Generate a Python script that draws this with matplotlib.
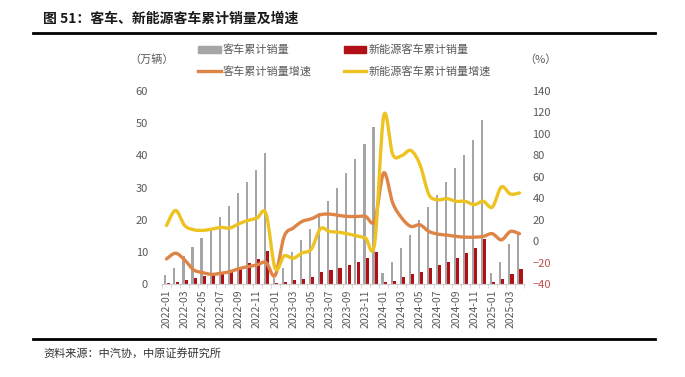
import matplotlib
matplotlib.use("Agg")
import matplotlib.pyplot as plt
import numpy as np
from matplotlib.path import Path
from matplotlib.patches import PathPatch, Patch
from matplotlib.lines import Line2D

plt.rcParams['font.family'] = ['Noto Sans CJK SC', 'DejaVu Sans']

# ---------------- data ----------------
months = [f"{y}-{m:02d}" for y in (2022, 2023, 2024) for m in range(1, 13)] + \
         ["2025-01", "2025-02", "2025-03", "2025-04"]

bus_cum = [2.8, 5.1, 8.8, 11.6, 14.4, 17.1, 20.8, 24.2, 28.2, 31.6, 35.3, 40.6,
           1.8, 5.1, 9.8, 13.7, 17.2, 22.0, 25.9, 29.8, 34.4, 38.8, 43.4, 48.9,
           3.3, 6.7, 11.1, 15.2, 19.9, 24.0, 27.8, 31.6, 36.0, 40.1, 44.8, 51.0,
           3.5, 6.8, 12.3, 15.4]

nev_bus_cum = [0.2, 0.7, 1.2, 1.8, 2.5, 2.8, 3.3, 4.0, 4.9, 6.6, 7.8, 10.3,
               0.2, 0.5, 1.2, 1.6, 2.3, 3.6, 4.2, 5.0, 5.9, 6.8, 8.1, 9.9,
               0.5, 0.9, 2.1, 3.0, 3.8, 5.0, 5.9, 6.9, 8.1, 9.6, 11.2, 13.9,
               0.7, 1.6, 3.1, 4.6]

bus_growth = [-16.6, -11.3, -17.5, -26.8, -29.4, -31.0, -30.0, -28.5, -25.7, -23.8, -22.2, -20.0,
              -32.0, 4.4, 12.2, 18.4, 20.8, 24.6, 25.2, 24.0, 23.0, 23.0, 23.0, 19.0,
              63.6, 35.5, 21.5, 13.7, 15.2, 9.0, 6.5, 5.6, 4.4, 3.7, 3.7, 4.4,
              6.9, 1.2, 9.0, 6.9]

nev_bus_growth = [14.6, 28.6, 14.6, 10.6, 10.0, 11.2, 12.8, 12.2, 16.2, 19.3, 21.5, 25.5,
                  -25.3, -13.8, -16.0, -11.0, -7.5, 11.5, 9.0, 8.3, 6.8, 4.9, 2.7, -1.9,
                  116.6, 80.7, 79.8, 84.5, 71.4, 43.3, 38.6, 39.6, 37.1, 37.1, 34.0, 37.1,
                  31.7, 50.5, 43.9, 44.9]

left_ticks = [0, 10, 20, 30, 40, 50, 60]
right_ticks = [-40, -20, 0, 20, 40, 60, 80, 100, 120, 140]

labels = ["客车累计销量", "新能源客车累计销量", "客车累计销量增速", "新能源客车累计销量增速"]

# ---------------- style ----------------
C_GRAY = "#A5A5A5"
C_RED = "#B01016"
C_ORANGE = "#DF8447"
C_YELLOW = "#EDC322"
C_TXT = "#595959"


def smooth_path(xs, ys):
    """Catmull-Rom style smoothing (like Excel smoothed lines) as Bezier path."""
    xs = np.asarray(xs, float)
    ys = np.asarray(ys, float)
    n = len(xs)
    verts = [(xs[0], ys[0])]
    codes = [Path.MOVETO]
    for i in range(n - 1):
        i0 = max(i - 1, 0)
        i3 = min(i + 2, n - 1)
        c1 = (xs[i] + (xs[i + 1] - xs[i0]) / 6.0, ys[i] + (ys[i + 1] - ys[i0]) / 6.0)
        c2 = (xs[i + 1] - (xs[i3] - xs[i]) / 6.0, ys[i + 1] - (ys[i3] - ys[i]) / 6.0)
        verts += [c1, c2, (xs[i + 1], ys[i + 1])]
        codes += [Path.CURVE4] * 3
    return Path(verts, codes)


fig = plt.figure(figsize=(6.85, 3.77), dpi=100)
ax = fig.add_axes([162 / 685, 1 - 284 / 377, (524 - 162) / 685, (284 - 91) / 377])
ax2 = ax.twinx()

x = np.arange(len(months))
ax.bar(x - 0.13, bus_cum, width=0.24, color=C_GRAY, zorder=2)
ax.bar(x + 0.17, nev_bus_cum, width=0.34, color=C_RED, zorder=2)

ax.set_xlim(-0.5, len(months) - 0.5)
ax.set_ylim(0, 60)
ax.set_yticks(left_ticks)

ax2.add_patch(PathPatch(smooth_path(x, bus_growth), facecolor="none",
                        edgecolor=C_ORANGE, lw=2.4, capstyle="round", joinstyle="round", zorder=3))
ax2.add_patch(PathPatch(smooth_path(x, nev_bus_growth), facecolor="none",
                        edgecolor=C_YELLOW, lw=2.4, capstyle="round", joinstyle="round", zorder=4))
ax2.set_ylim(-40, 140)
ax2.set_yticks(right_ticks)
ax2.set_xlim(-0.5, len(months) - 0.5)

for a in (ax, ax2):
    for s in ("top", "left", "right"):
        a.spines[s].set_visible(False)
    a.spines["bottom"].set_color("#D0D0D0")
    a.tick_params(axis="y", length=0, labelsize=8, labelcolor=C_TXT)

ax.tick_params(axis="y", pad=10)
ax2.tick_params(axis="y", pad=6)
for lab, val in zip(ax2.get_yticklabels(), right_ticks):
    if val < 0:
        lab.set_color("#C0504D")

ax.set_xticks(x[::2])
ax.set_xticklabels(months[::2], rotation=90, fontsize=7.5, color=C_TXT)
ax.set_xticks(np.arange(-0.5, len(months), 1), minor=True)
ax.tick_params(axis="x", which="major", length=0, pad=4)
ax.tick_params(axis="x", which="minor", length=3, color="#D0D0D0")

# units
fig.text(152 / 685, 1 - 60 / 377, "（万辆）", fontsize=8, color=C_TXT, ha="center", va="center")
fig.text(540 / 685, 1 - 60 / 377, "（%）", fontsize=8, color=C_TXT, ha="center", va="center")

# legend
handles = [Patch(color=C_GRAY), Line2D([], [], color=C_ORANGE, lw=2.4),
           Patch(color=C_RED), Line2D([], [], color=C_YELLOW, lw=2.4)]
leg_labels = [labels[0], labels[2], labels[1], labels[3]]
fig.legend(handles, leg_labels, ncol=2, loc="upper left",
           bbox_to_anchor=(194 / 685, 1 - 40 / 377), frameon=False,
           fontsize=8, labelcolor=C_TXT, handlelength=2.0, handleheight=0.6,
           handletextpad=0.2, columnspacing=2.9, labelspacing=0.95, borderaxespad=0)

# title and frame lines
fig.text(43 / 685, 1 - 19 / 377, "图 51：客车、新能源客车累计销量及增速", fontsize=10,
         fontweight="bold", color="#1a1a1a", ha="left", va="center")
fig.add_artist(Line2D([33 / 685, 655 / 685], [1 - 33 / 377] * 2, color="black", lw=2))
fig.add_artist(Line2D([33 / 685, 655 / 685], [1 - 339 / 377] * 2, color="black", lw=2))
fig.text(43 / 685, 1 - 353 / 377, "资料来源：中汽协，中原证券研究所", fontsize=8,
         color="#333333", ha="left", va="center")

fig.savefig("out.png", dpi=100)
